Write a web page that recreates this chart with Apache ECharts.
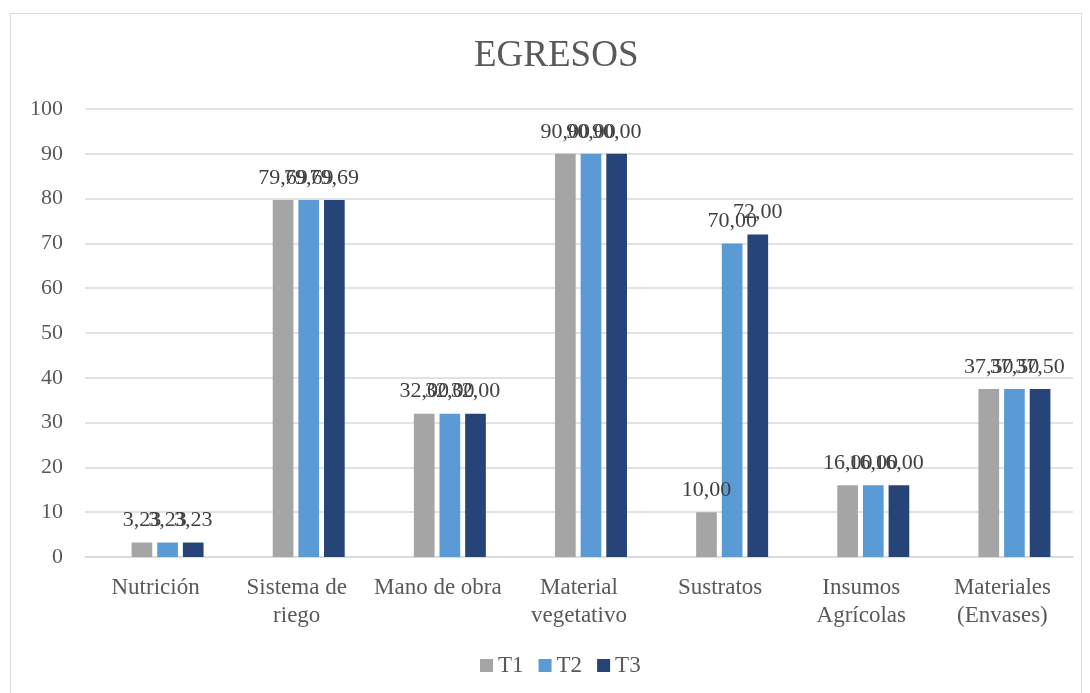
<!DOCTYPE html>
<html>
<head>
<meta charset="utf-8">
<script src="https://cdn.jsdelivr.net/npm/echarts@6/dist/echarts.min.js"></script>
<style>
html,body{margin:0;padding:0;background:#fff;}
#frame{position:absolute;left:10px;top:13px;width:1072px;height:700px;border:1px solid #d9d9d9;box-sizing:border-box;}
#main{position:absolute;left:0;top:0;width:1090px;height:693px;}
</style>
</head>
<body>
<div id="frame"></div>
<div id="main"></div>
<script>
const categories = ['Nutrición', 'Sistema de\nriego', 'Mano de obra', 'Material\nvegetativo', 'Sustratos', 'Insumos\nAgrícolas', 'Materiales\n(Envases)'];
const seriesNames = ['T1', 'T2', 'T3'];
const t1 = [3.23, 79.69, 32.00, 90.00, 10.00, 16.00, 37.50];
const t2 = [3.23, 79.69, 32.00, 90.00, 70.00, 16.00, 37.50];
const t3 = [3.23, 79.69, 32.00, 90.00, 72.00, 16.00, 37.50];
const yTicks = { min: 0, max: 100, interval: 10 };
const colors = ['#a5a5a5', '#5b9bd5', '#264478'];
const FONT = '"Liberation Serif", "Times New Roman", serif';

const chart = echarts.init(document.getElementById('main'));
const mk = (name, data, color) => ({
  name: name,
  type: 'bar',
  data: data,
  xAxisIndex: 1,
  yAxisIndex: 1,
  barGap: '24%',
  barCategoryGap: '49%',
  itemStyle: { color: color },
  label: {
    show: true,
    position: 'top',
    distance: 11,
    fontFamily: FONT,
    fontSize: 22,
    color: '#404040',
    formatter: p => p.value.toFixed(2).replace('.', ',')
  }
});
chart.setOption({
  animation: false,
  title: {
    text: 'EGRESOS',
    left: 469,
    top: 33,
    textStyle: { fontFamily: FONT, fontSize: 37, fontWeight: 'normal', color: '#595959' }
  },
  legend: {
    data: seriesNames,
    top: 649,
    left: 475,
    icon: 'rect',
    itemWidth: 13,
    itemHeight: 13,
    itemGap: 15,
    textStyle: { fontFamily: FONT, fontSize: 23, color: '#595959' }
  },
  grid: [
    { left: 85, right: 17, top: 109, bottom: 136 },
    { left: 97, right: 5, top: 109, bottom: 136 }
  ],
  xAxis: [{
    type: 'category',
    gridIndex: 0,
    data: categories,
    axisLine: { show: true, lineStyle: { color: '#d9d9d9', width: 1.5 } },
    axisTick: { show: false },
    axisLabel: { fontFamily: FONT, fontSize: 23, color: '#595959', margin: 17, lineHeight: 28, interval: 0 }
  }, {
    type: 'category',
    gridIndex: 1,
    data: categories,
    show: false
  }],
  yAxis: [{
    type: 'value',
    gridIndex: 0,
    min: yTicks.min,
    max: yTicks.max,
    interval: yTicks.interval,
    axisLine: { show: false },
    axisTick: { show: false },
    axisLabel: { fontFamily: FONT, fontSize: 22, color: '#595959', margin: 22 },
    splitLine: { lineStyle: { color: '#d9d9d9', width: 1.5 } }
  }, {
    type: 'value',
    gridIndex: 1,
    min: yTicks.min,
    max: yTicks.max,
    interval: yTicks.interval,
    show: false,
    splitLine: { show: false }
  }],
  series: [mk('T1', t1, colors[0]), mk('T2', t2, colors[1]), mk('T3', t3, colors[2])]
});
</script>
</body>
</html>
